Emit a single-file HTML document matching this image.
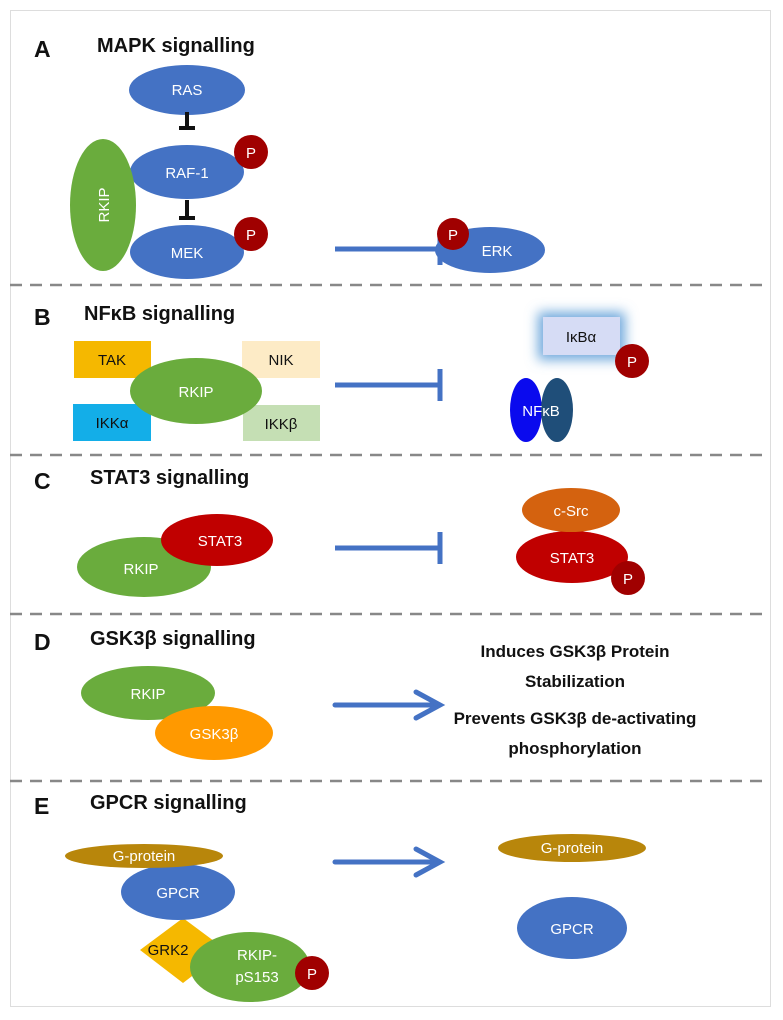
<!DOCTYPE html>
<html><head><meta charset="utf-8"><style>
html,body{margin:0;padding:0;background:#fff;}
svg{display:block;}
text{font-family:"Liberation Sans","DejaVu Sans",sans-serif;}
.t{font-size:20px;font-weight:bold;fill:#111;}
.w{fill:#fff;font-size:15px;text-anchor:middle;}
.k{fill:#111;font-size:15px;text-anchor:middle;}
.r{font-size:17px;font-weight:bold;fill:#111;text-anchor:middle;}
</style></head><body>
<svg width="783" height="1020" viewBox="0 0 783 1020" xmlns="http://www.w3.org/2000/svg">
<defs>
<filter id="glow" x="-50%" y="-50%" width="200%" height="200%"><feGaussianBlur stdDeviation="6"/></filter>
</defs>
<rect x="10.5" y="10.5" width="760" height="996" fill="#fff" stroke="#ddd"/>
<g stroke="#888" stroke-width="2.5" stroke-dasharray="12,8">
<line x1="10" y1="285" x2="770" y2="285"/>
<line x1="10" y1="455" x2="770" y2="455"/>
<line x1="10" y1="614" x2="770" y2="614"/>
<line x1="10" y1="781" x2="770" y2="781"/>
</g>
<!-- A -->
<text x="34" y="57" class="t" style="font-size:23px">A</text>
<text x="97" y="52" class="t">MAPK signalling</text>
<ellipse cx="187" cy="90" rx="58" ry="25" fill="#4472c4"/><text x="187" y="95" class="w">RAS</text>
<g stroke="#111" stroke-width="4"><line x1="187" y1="112" x2="187" y2="128"/><line x1="179" y1="128" x2="195" y2="128"/>
<line x1="187" y1="200" x2="187" y2="218"/><line x1="179" y1="218" x2="195" y2="218"/></g>
<ellipse cx="187" cy="172" rx="57" ry="27" fill="#4472c4"/><text x="187" y="178" class="w">RAF-1</text>
<ellipse cx="187" cy="252" rx="57" ry="27" fill="#4472c4"/><text x="187" y="258" class="w">MEK</text>
<ellipse cx="103" cy="205" rx="33" ry="66" fill="#6aac3d"/><text x="0" y="0" class="w" transform="translate(109,205) rotate(-90)">RKIP</text>
<circle cx="251" cy="152" r="17" fill="#a00000"/><text x="251" y="158" class="w">P</text>
<circle cx="251" cy="234" r="17" fill="#a00000"/><text x="251" y="240" class="w">P</text>
<g stroke="#4472c4" stroke-width="5"><line x1="335" y1="249" x2="440" y2="249"/><line x1="440" y1="233" x2="440" y2="265"/></g>
<ellipse cx="490" cy="250" rx="55" ry="23" fill="#4472c4"/><text x="497" y="256" class="w">ERK</text>
<circle cx="453" cy="234" r="16" fill="#a00000"/><text x="453" y="240" class="w">P</text>
<!-- B -->
<text x="34" y="325" class="t" style="font-size:23px">B</text>
<text x="84" y="320" class="t">NFκB signalling</text>
<rect x="74" y="341" width="77" height="37" fill="#f5b800"/><text x="112" y="365" class="k">TAK</text>
<rect x="242" y="341" width="78" height="37" fill="#fdebc6"/><text x="281" y="365" class="k">NIK</text>
<rect x="73" y="404" width="78" height="37" fill="#13aee8"/><text x="112" y="428" class="k">IKKα</text>
<rect x="243" y="405" width="77" height="36" fill="#c5dfb4"/><text x="281" y="429" class="k">IKKβ</text>
<ellipse cx="196" cy="391" rx="66" ry="33" fill="#6aac3d"/><text x="196" y="397" class="w">RKIP</text>
<g stroke="#4472c4" stroke-width="5"><line x1="335" y1="385" x2="440" y2="385"/><line x1="440" y1="369" x2="440" y2="401"/></g>
<rect x="538" y="312" width="87" height="48" fill="#6fa8dc" filter="url(#glow)"/>
<rect x="543" y="317" width="77" height="38" fill="#d6dcf5"/><text x="581" y="342" class="k">IκBα</text>
<circle cx="632" cy="361" r="17" fill="#a00000"/><text x="632" y="367" class="w">P</text>
<ellipse cx="526" cy="410" rx="16" ry="32" fill="#0a0aee"/>
<ellipse cx="557" cy="410" rx="16" ry="32" fill="#1f4e79"/>
<text x="541" y="416" class="w">NFκB</text>
<!-- C -->
<text x="34" y="489" class="t" style="font-size:23px">C</text>
<text x="90" y="484" class="t">STAT3 signalling</text>
<ellipse cx="144" cy="567" rx="67" ry="30" fill="#6aac3d"/><text x="141" y="574" class="w">RKIP</text>
<ellipse cx="217" cy="540" rx="56" ry="26" fill="#c00000"/><text x="220" y="546" class="w">STAT3</text>
<g stroke="#4472c4" stroke-width="5"><line x1="335" y1="548" x2="440" y2="548"/><line x1="440" y1="532" x2="440" y2="564"/></g>
<ellipse cx="572" cy="557" rx="56" ry="26" fill="#c00000"/><text x="572" y="563" class="w">STAT3</text>
<ellipse cx="571" cy="510" rx="49" ry="22" fill="#d4620f"/><text x="571" y="516" class="w">c-Src</text>
<circle cx="628" cy="578" r="17" fill="#a00000"/><text x="628" y="584" class="w">P</text>
<!-- D -->
<text x="34" y="650" class="t" style="font-size:23px">D</text>
<text x="90" y="645" class="t">GSK3β signalling</text>
<ellipse cx="148" cy="693" rx="67" ry="27" fill="#6aac3d"/><text x="148" y="699" class="w">RKIP</text>
<ellipse cx="214" cy="733" rx="59" ry="27" fill="#ff9900"/><text x="214" y="739" class="w">GSK3β</text>
<g stroke="#4472c4" stroke-width="5" fill="none" stroke-linecap="round"><line x1="335" y1="705" x2="438" y2="705"/><polyline points="416,692 440,705 416,718"/></g>
<text x="575" y="657" class="r">Induces GSK3β Protein</text>
<text x="575" y="687" class="r">Stabilization</text>
<text x="575" y="724" class="r">Prevents GSK3β de-activating</text>
<text x="575" y="754" class="r">phosphorylation</text>
<!-- E -->
<text x="34" y="814" class="t" style="font-size:23px">E</text>
<text x="90" y="809" class="t">GPCR signalling</text>
<polygon points="183,918 226,950 183,983 140,950" fill="#f5b800"/>
<ellipse cx="178" cy="892" rx="57" ry="28" fill="#4472c4"/><text x="178" y="898" class="w">GPCR</text>
<ellipse cx="144" cy="856" rx="79" ry="12" fill="#b8860b"/><text x="144" y="861" class="w">G-protein</text>
<ellipse cx="250" cy="967" rx="60" ry="35" fill="#6aac3d"/><text x="257" y="960" class="w">RKIP-</text><text x="257" y="982" class="w">pS153</text>
<text x="168" y="955" class="k">GRK2</text>
<circle cx="312" cy="973" r="17" fill="#a00000"/><text x="312" y="979" class="w">P</text>
<g stroke="#4472c4" stroke-width="5" fill="none" stroke-linecap="round"><line x1="335" y1="862" x2="438" y2="862"/><polyline points="416,849 440,862 416,875"/></g>
<ellipse cx="572" cy="848" rx="74" ry="14" fill="#b8860b"/><text x="572" y="853" class="w">G-protein</text>
<ellipse cx="572" cy="928" rx="55" ry="31" fill="#4472c4"/><text x="572" y="934" class="w">GPCR</text>
</svg>
</body></html>
